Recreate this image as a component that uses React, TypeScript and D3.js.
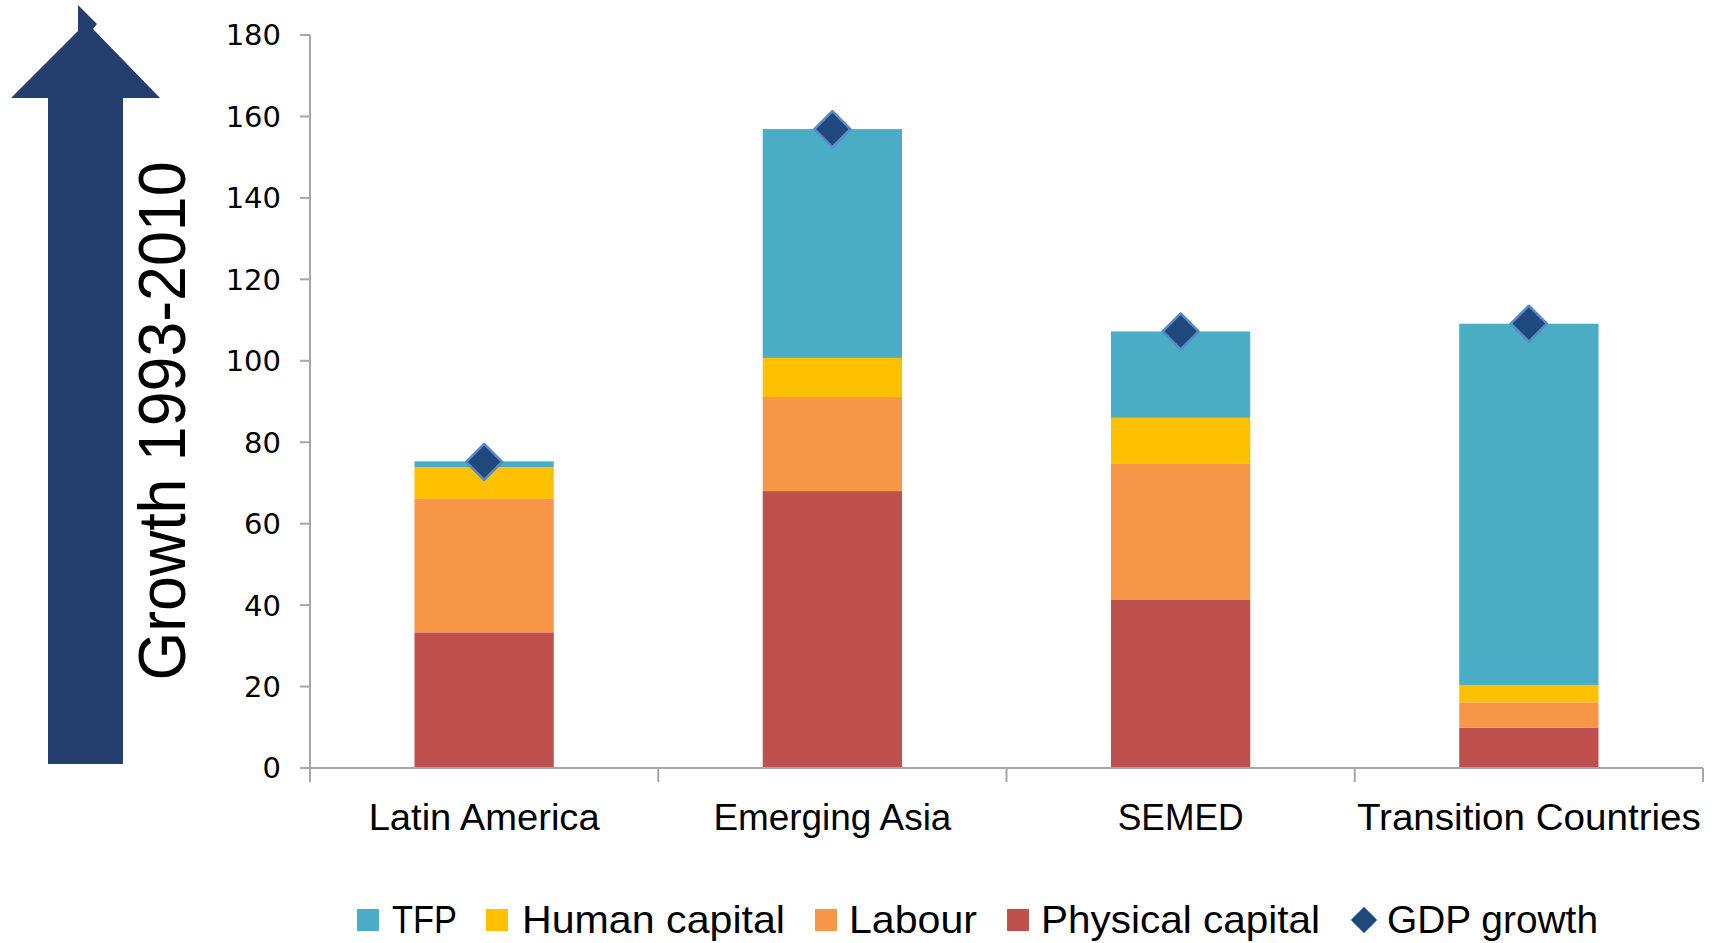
import React from "react";
import * as d3 from "d3";

const categories = ["Latin America", "Emerging Asia", "SEMED", "Transition Countries"];
const physicalCapital = [33.3, 68.0, 41.4, 9.9];
const labour = [32.8, 23.1, 33.3, 6.2];
const humanCapital = [7.8, 9.6, 11.3, 4.3];
const tfp = [1.4, 56.2, 21.2, 88.7];
const gdpGrowth = [75.2, 156.9, 107.2, 109.1];
const yTicks = [0, 20, 40, 60, 80, 100, 120, 140, 160, 180];
const seriesNames = ["Physical capital", "Labour", "Human capital", "TFP"];
const legendNames = ["TFP", "Human capital", "Labour", "Physical capital", "GDP growth"];
const axisTitle = "Growth 1993-2010";

const COLORS: Record<string, string> = {
  "Physical capital": "#C0504D",
  Labour: "#F79646",
  "Human capital": "#FFC000",
  TFP: "#4BACC6",
};
const DIAMOND_FILL = "#1F497D";
const DIAMOND_STROKE = "#5A8AC6";
const AXIS_COLOR = "#A6A6A6";

// layout (not data)
const W = 1716;
const H = 943;
const X0 = 310;
const X1 = 1703;
const Y0 = 768;
const Y1 = 35;
const legendLayout = [
  { marker: 357, text: 392, width: 65 },
  { marker: 486, text: 522, width: 263 },
  { marker: 815, text: 849, width: 128 },
  { marker: 1007, text: 1041, width: 279 },
  { marker: 1364, text: 1387, width: 211 },
];
const catLabelWidths = [231, 238, 126, 344];

export default function App() {
  const x = d3.scaleBand<string>().domain(categories).range([X0, X1]).paddingInner(0.6).paddingOuter(0.3);
  const y = d3.scaleLinear().domain([0, 180]).range([Y0, Y1]);

  const rows = categories.map((c, i) => ({
    cat: c,
    "Physical capital": physicalCapital[i],
    Labour: labour[i],
    "Human capital": humanCapital[i],
    TFP: tfp[i],
  }));
  const stacked = d3.stack<any>().keys(seriesNames)(rows);

  const step = (X1 - X0) / categories.length;
  const catTicks = d3.range(categories.length + 1).map((i) => X0 + i * step);

  const diamond = (cx: number, cy: number, r: number) =>
    `M${cx},${cy - r}L${cx + r},${cy}L${cx},${cy + r}L${cx - r},${cy}Z`;

  const font = "'Liberation Sans', Arial, sans-serif";

  return (
    <svg
      width={W}
      height={H}
      style={{ position: "absolute", left: 0, top: 0, background: "#fff" }}
      xmlns="http://www.w3.org/2000/svg"
    >
      <rect x={0} y={0} width={W} height={H} fill="#fff" />
      {/* Arrow */}
      <path
        d="M48,764 L48,98 L11,98 L78,31 L78,5 L97,24 L93,29 L160,98 L123,98 L123,764 Z"
        fill="#243F6E"
      />
      <text
        transform={`translate(185,421) rotate(-90)`}
        textAnchor="middle"
        fontFamily={font}
        fontSize={66}
        textLength={519}
        lengthAdjust="spacingAndGlyphs"
        fill="#000"
      >
        {axisTitle}
      </text>

      {/* Bars */}
      {stacked.map((s) => (
        <g key={s.key} fill={COLORS[s.key as string]}>
          {s.map((d, i) => (
            <rect
              key={i}
              x={x(categories[i])!}
              y={y(d[1])}
              width={x.bandwidth()}
              height={y(d[0]) - y(d[1])}
            />
          ))}
        </g>
      ))}

      {/* Y axis */}
      <line x1={X0} x2={X0} y1={y(180)} y2={Y0 + 14} stroke={AXIS_COLOR} strokeWidth={2} />
      {yTicks.map((t) => (
        <g key={t}>
          <line x1={X0 - 10} x2={X0} y1={y(t)} y2={y(t)} stroke={AXIS_COLOR} strokeWidth={2} />
          <text
            x={281}
            y={y(t)}
            dy="0.36em"
            textAnchor="end"
            fontFamily="'DejaVu Sans', Verdana, sans-serif"
            fontSize={29}
            fill="#000"
          >
            {t}
          </text>
        </g>
      ))}

      {/* X axis */}
      <line x1={X0 - 10} x2={X1} y1={Y0} y2={Y0} stroke={AXIS_COLOR} strokeWidth={2} />
      {catTicks.map((tx, i) => (
        <line key={i} x1={tx} x2={tx} y1={Y0} y2={Y0 + 14} stroke={AXIS_COLOR} strokeWidth={2} />
      ))}
      {categories.map((c, i) => (
        <text
          key={c}
          x={x(c)! + x.bandwidth() / 2}
          y={830}
          textAnchor="middle"
          fontFamily={font}
          fontSize={36}
          textLength={catLabelWidths[i]}
          lengthAdjust="spacingAndGlyphs"
          fill="#000"
        >
          {c}
        </text>
      ))}

      {/* GDP diamonds */}
      {gdpGrowth.map((g, i) => (
        <path
          key={i}
          d={diamond(x(categories[i])! + x.bandwidth() / 2, y(g), 18)}
          fill={DIAMOND_FILL}
          stroke={DIAMOND_STROKE}
          strokeWidth={2.5}
          strokeLinejoin="round"
        />
      ))}

      {/* Legend */}
      {legendNames.map((n, i) => {
        const L = legendLayout[i];
        return (
          <g key={n}>
            {n === "GDP growth" ? (
              <path d={diamond(L.marker, 920, 13)} fill={DIAMOND_FILL} stroke={DIAMOND_STROKE} strokeWidth={1} />
            ) : (
              <rect x={L.marker} y={909} width={22} height={22} fill={COLORS[n]} />
            )}
            <text
              x={L.text}
              y={933}
              fontFamily={font}
              fontSize={39}
              textLength={L.width}
              lengthAdjust="spacingAndGlyphs"
              fill="#000"
            >
              {n}
            </text>
          </g>
        );
      })}
    </svg>
  );
}
